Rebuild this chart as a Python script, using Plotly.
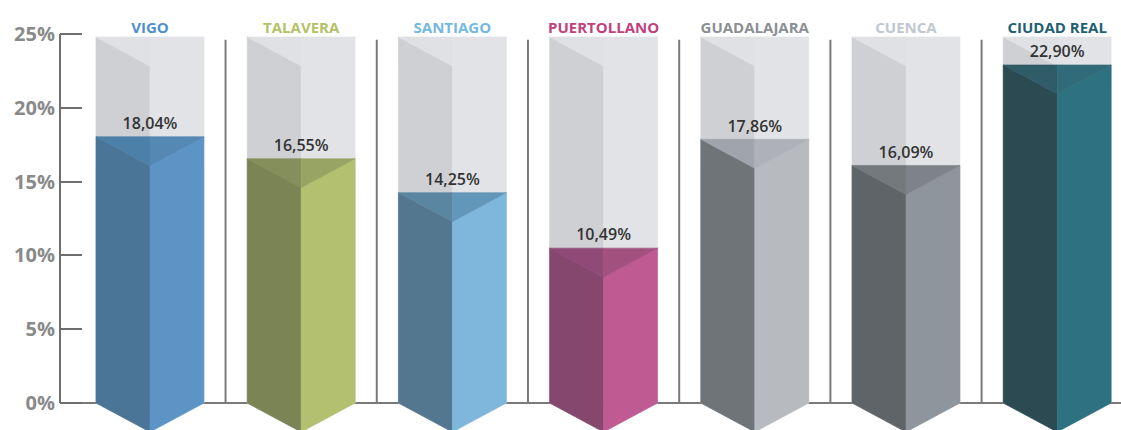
import plotly.graph_objects as go

# ---- data ----
cities = ["VIGO", "TALAVERA", "SANTIAGO", "PUERTOLLANO", "GUADALAJARA", "CUENCA", "CIUDAD REAL"]
values = [18.04, 16.55, 14.25, 10.49, 17.86, 16.09, 22.90]
tick_vals = [0, 5, 10, 15, 20, 25]
tick_text = ["0%", "5%", "10%", "15%", "20%", "25%"]

# ---- styles ----
label_colors = ["#4f8fd0", "#b3c267", "#74b9e2", "#c2407d", "#8b8f94", "#bfc7cf", "#1f6072"]
left_face = ["#4a7597", "#7b8455", "#52778f", "#86476f", "#6f7479", "#5f6469", "#2b4a52"]
right_face = ["#5d94c6", "#b3c070", "#7fb7dc", "#bf5a92", "#b7bbc0", "#8f959c", "#2e7181"]
top_left = ["#4d80a8", "#858f5b", "#5a86a2", "#8f4a78", "#a0a4ac", "#74797e", "#2f5c67"]
top_right = ["#5688b4", "#98a463", "#6297b9", "#a2517f", "#aeb2b8", "#7e838a", "#316a78"]
bg_left, bg_right, bg_top = "#cfd0d3", "#e1e3e6", "#dfe1e4"

HALF = 0.357      # half width of a prism (category units)
DEPTH = 1.965     # depth of the top / bottom point (y units)
BG_TOP = 24.8     # height of the grey background prism
SEP_TOP = 24.6

fig = go.Figure()


def poly(xs, ys, color):
    fig.add_trace(go.Scatter(x=xs + [xs[0]], y=ys + [ys[0]], fill="toself", fillcolor=color,
                             mode="lines", line=dict(width=0.6, color=color),
                             hoverinfo="skip", showlegend=False))


def prism(xc, v, lc, rc, tl, tr):
    x0, x1 = xc - HALF, xc + HALF
    poly([x0, xc, xc, x0], [0, -DEPTH, v - DEPTH, v], lc)
    poly([xc, x1, x1, xc], [-DEPTH, 0, v, v - DEPTH], rc)
    poly([x0, xc, xc], [v, v, v - DEPTH], tl)
    poly([xc, x1, xc], [v, v, v - DEPTH], tr)


for i, v in enumerate(values):
    prism(i, BG_TOP, bg_left, bg_right, bg_top, bg_right)
    prism(i, v, left_face[i], right_face[i], top_left[i], top_right[i])

# separators
sx, sy = [], []
for i in range(len(cities) - 1):
    sx += [i + 0.5, i + 0.5, None]
    sy += [0, SEP_TOP, None]
fig.add_trace(go.Scatter(x=sx, y=sy, mode="lines", line=dict(color="#7a7a7a", width=2),
                         hoverinfo="skip", showlegend=False))

# value labels
fig.add_trace(go.Scatter(
    x=list(range(len(values))), y=[v + 0.8 for v in values], mode="text",
    text=[f"{v:.2f}".replace(".", ",") + "%" for v in values],
    textfont=dict(family="Open Sans", size=16, color="#333333", weight=600),
    hoverinfo="skip", showlegend=False, cliponaxis=False))

# category labels
fig.add_trace(go.Scatter(
    x=list(range(len(cities))), y=[BG_TOP + 0.55] * len(cities), mode="text",
    text=cities, textfont=dict(family="Open Sans", size=15, color=label_colors, weight=700),
    hoverinfo="skip", showlegend=False, cliponaxis=False))

# y axis line
fig.add_shape(type="line", xref="paper", yref="y", x0=0, x1=0, y0=tick_vals[0], y1=tick_vals[-1],
              line=dict(color="#6e6e6e", width=2))

fig.update_layout(
    width=1121, height=430,
    margin=dict(l=60, r=0, t=0, b=0),
    paper_bgcolor="white", plot_bgcolor="white",
    xaxis=dict(range=[-0.595, 6.422], visible=False, fixedrange=True),
    yaxis=dict(range=[-1.83, 27.30], tickvals=tick_vals, ticktext=tick_text,
               ticks="inside", ticklen=22, tickwidth=2, tickcolor="#6e6e6e",
               showgrid=False, showline=False,
               zeroline=True, zerolinecolor="#7a7a7a", zerolinewidth=2,
               tickfont=dict(family="Open Sans", size=20, color="#8a8a8a", weight=700),
               ticklabelstandoff=4, fixedrange=True),
)

fig.write_html("out.html")
